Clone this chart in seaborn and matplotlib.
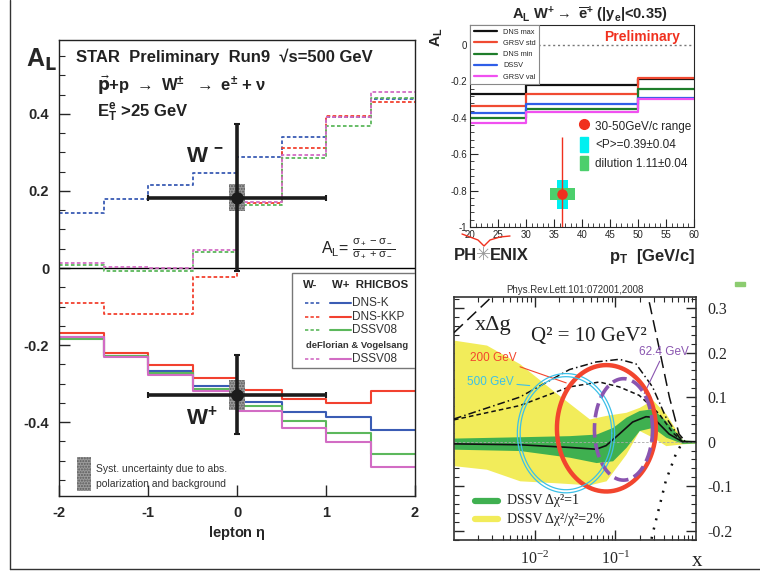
import numpy as np
import matplotlib
matplotlib.use("Agg")
import matplotlib.pyplot as plt
import seaborn as sns
from matplotlib.patches import Rectangle, Patch
from matplotlib.lines import Line2D
from matplotlib.ticker import MultipleLocator, LogLocator, NullFormatter

sns.set_style("ticks")
plt.rcParams['font.family'] = ['Liberation Sans', 'DejaVu Sans']
plt.rcParams['axes.unicode_minus'] = False
plt.rcParams['mathtext.default'] = 'regular'

# ---------------- STAR: A_L vs lepton eta ----------------
eta_edges = [-2.0, -1.5, -1.0, -0.5, 0.0, 0.5, 1.0, 1.5, 2.0]
# W- (dashed)
wm_dnsk = [0.144, 0.178, 0.215, 0.247, 0.288, 0.340, 0.392, 0.440]
wm_dnskkp = [-0.091, -0.119, -0.119, -0.023, 0.168, 0.311, 0.394, 0.431]
wm_dssv = [0.009, -0.008, -0.008, 0.042, 0.163, 0.285, 0.370, 0.442]
wm_dv = [0.013, 0.002, 0.000, 0.048, 0.172, 0.294, 0.392, 0.457]
# W+ (solid)
wp_dnsk = [-0.180, -0.228, -0.267, -0.307, -0.349, -0.374, -0.387, -0.420]
wp_dnskkp = [-0.168, -0.221, -0.253, -0.285, -0.317, -0.339, -0.350, -0.320]
wp_dssv = [-0.184, -0.228, -0.272, -0.313, -0.359, -0.398, -0.429, -0.483]
wp_dv = [-0.180, -0.230, -0.277, -0.320, -0.371, -0.416, -0.452, -0.516]
star_eta = [0.0, 0.0]
star_al = [0.183, -0.329]
star_stat = [0.19, 0.103]
star_xerr = [1.0, 1.0]
star_syst = [0.035, 0.039]
star_yticks = [-0.4, -0.2, 0.0, 0.2, 0.4]
star_xticks = [-2, -1, 0, 1, 2]
star_names = ['DNS-K', 'DNS-KKP', 'DSSV08', 'DSSV08']
star_colors = ['#3a5cb4', '#f2412f', '#5cb85c', '#d26cc4']

# ---------------- PHENIX: A_L vs pT ----------------
pt_edges = [20, 30, 50, 60]
phx_names = ['DNS max', 'GRSV std', 'DNS min', 'DSSV', 'GRSV val']
phx_colors = ['#111111', '#f04a32', '#1e7d2a', '#2f5ee8', '#f050f0']
phx_curves = [
    [-0.267, -0.222, -0.186],
    [-0.337, -0.267, -0.180],
    [-0.402, -0.351, -0.243],
    [-0.375, -0.326, -0.292],
    [-0.429, -0.366, -0.297],
]
phx_pt = [36.5]
phx_al = [-0.82]
phx_err = [0.315]
phx_pol = [0.079]
phx_dil = [0.033]
phx_xticks = [20, 25, 30, 35, 40, 45, 50, 55, 60]
phx_yticks = [-1, -0.8, -0.6, -0.4, -0.2, 0]

# ---------------- DSSV x*Delta g ----------------
lx_central = [-3.0, -2.185, -1.568, -1.238, -1.115, -0.951, -0.786, -0.621, -0.539, -0.457, -0.333, -0.169, -0.004]
dg_central = [-0.005, -0.007, -0.013, -0.017, -0.009, 0.017, 0.044, 0.056, 0.055, 0.040, 0.017, 0.0, 0.0]
lx_green = [-3.0, -2.185, -1.568, -1.238, -1.033, -0.868, -0.704, -0.539, -0.374, -0.169, -0.004]
green_hi = [0.008, 0.011, 0.0135, 0.017, 0.032, 0.055, 0.070, 0.074, 0.047, 0.004, 0.002]
green_lo = [-0.017, -0.020, -0.035, -0.047, -0.043, -0.013, 0.025, 0.032, 0.010, -0.004, -0.003]
lx_yellow = [-3.0, -2.597, -2.185, -1.774, -1.321, -1.115, -0.868, -0.704, -0.539, -0.374, -0.169, -0.004]
yellow_hi = [0.228, 0.217, 0.175, 0.115, 0.051, 0.059, 0.066, 0.077, 0.094, 0.0625, 0.004, 0.001]
yellow_lo = [-0.054, -0.062, -0.088, -0.092, -0.097, -0.088, -0.028, 0.025, 0.010, -0.009, -0.005, -0.003]
lx_dashdot = [-3.0, -2.185, -1.568, -1.238, -0.951, -0.745, -0.539, -0.374, -0.210, -0.128]
dg_dashdot = [0.051, 0.100, 0.162, 0.179, 0.185, 0.175, 0.123, 0.055, 0.010, 0.0]
lx_dashed = [-3.0, -2.185, -1.568, -1.198, -0.951, -0.704, -0.457, -0.292, -0.169]
dg_dashed = [0.049, 0.081, 0.123, 0.134, 0.123, 0.104, 0.0625, 0.021, 0.0]
lx_longdash = [-3.0, -2.9, -2.58, -2.3, -2.0, -1.5, -1.0, -0.7, -0.58, -0.46, -0.33, -0.21, -0.13]
dg_longdash = [0.245, 0.262, 0.317, 0.37, 0.43, 0.52, 0.52, 0.42, 0.314, 0.213, 0.10, 0.017, 0.0]
lx_dotted = [-0.6, -0.539, -0.374, -0.25, -0.169]
dg_dotted = [-0.26, -0.208, -0.088, -0.028, -0.002]
# sqrt(s) ellipses: centre log10(x), centre xDg, half-width (decades), half-height
ell_names = ['500 GeV', '200 GeV', '62.4 GeV']
ell_colors = ['#3cc0e8', '#f2452e', '#8a55b0']
ell_cx = [-1.612, -1.111, -0.899]
ell_cy = [0.019, 0.030, 0.0275]
ell_a = [0.603, 0.613, 0.36]
ell_b = [0.134, 0.142, 0.114]
dg_yticks = [-0.2, -0.1, 0.0, 0.1, 0.2, 0.3]

W, H = 760, 574


def fx(px):
    return px / W


def fy(py):
    return 1 - py / H


def step(ax, edges, vals, **kw):
    sns.lineplot(x=list(edges), y=list(vals) + [vals[-1]], drawstyle='steps-post',
                 ax=ax, legend=False, estimator=None, **kw)


fig = plt.figure(figsize=(7.6, 5.74), dpi=100)

# ======================= STAR panel =======================
ax1 = fig.add_axes([fx(59), fy(496), fx(356), 456 / H])
for vals, col in zip([wm_dnsk, wm_dnskkp, wm_dssv, wm_dv], star_colors):
    step(ax1, eta_edges, vals, color=col, lw=1.3, linestyle=(0, (2, 1.3)))
for vals, col in zip([wp_dnsk, wp_dnskkp, wp_dssv, wp_dv], star_colors):
    step(ax1, eta_edges, vals, color=col, lw=1.5)
ax1.axhline(0, color='black', lw=1, zorder=1)
syst = np.array(star_syst)
ax1.bar(star_eta, 2 * syst, bottom=np.array(star_al) - syst, width=0.18,
        color='#9c9c9c', hatch='......', edgecolor='#5a5a5a', lw=0, zorder=3)
ax1.errorbar(star_eta, star_al, xerr=star_xerr, yerr=star_stat, fmt='o',
             color='#1c1c1c', ms=8, elinewidth=2.6, capsize=2, capthick=1.5, zorder=4)
ax1.set_xlim(-2, 2)
ax1.set_ylim(-0.592, 0.592)
ax1.set_xticks(star_xticks, labels=[f'{v:g}' for v in star_xticks])
ax1.set_yticks(star_yticks, labels=[f'{v:g}' for v in star_yticks])
ax1.yaxis.set_minor_locator(MultipleLocator(0.05))
ax1.tick_params(direction='in', which='major', length=8, width=1, labelsize=10.5, pad=7)
ax1.tick_params(direction='in', which='minor', length=4, width=0.8)
ax1.tick_params(axis='x', which='minor', bottom=False)
for lab in ax1.get_xticklabels() + ax1.get_yticklabels():
    lab.set_fontweight('bold')
ax1.set_xlabel(r'lepton $\eta$', fontsize=10.5, fontweight='bold', labelpad=3)
for sp in ax1.spines.values():
    sp.set_color('#222222')
    sp.set_linewidth(1)

fig.text(fx(26), fy(60), r'A$_{\mathbf{L}}$', fontsize=18, fontweight='bold', va='center')
ax1.text(0.048, 0.963, 'STAR  Preliminary  Run9  √s=500 GeV', transform=ax1.transAxes,
         fontsize=12, fontweight='bold', va='center', color='#222222')
ax1.text(0.106, 0.901, r'$\vec{\mathbf{p}}$+p $\rightarrow$ W$^{\pm}$  $\rightarrow$ e$^{\pm}$ + $\nu$',
         transform=ax1.transAxes, fontsize=12, fontweight='bold', va='center', color='#222222')
ax1.text(0.106, 0.84, r'E$_T^e$ >25 GeV', transform=ax1.transAxes,
         fontsize=12, fontweight='bold', va='center', color='#222222')
ax1.text(0.735, 0.544, r'A$_L$= $\frac{\sigma_+ - \sigma_-}{\sigma_+ + \sigma_-}$',
         transform=ax1.transAxes, fontsize=11.5, va='center', color='#222222')
ax1.text(-0.57, 0.29, r'W $^{-}$', fontsize=16, fontweight='bold', va='center', color='#222222')
ax1.text(-0.57, -0.39, r'W$^{+}$', fontsize=16, fontweight='bold', va='center', color='#222222')

# hand-made legend box
ax1.add_patch(Rectangle((0.654, 0.28), 0.346, 0.21, transform=ax1.transAxes,
                        fc='white', ec='#777777', lw=1, zorder=5))
ax1.text(0.685, 0.463, 'W-', transform=ax1.transAxes, fontsize=8.2, fontweight='bold',
         va='center', zorder=6)
ax1.text(0.768, 0.463, 'W+  RHICBOS', transform=ax1.transAxes, fontsize=8.2, fontweight='bold',
         va='center', zorder=6)
row_y = [0.424, 0.392, 0.363, 0.301]
for yy, col, name in zip(row_y, star_colors, star_names):
    ax1.add_line(Line2D([0.691, 0.736], [yy, yy], transform=ax1.transAxes, color=col,
                        lw=1.2, linestyle=(0, (2, 1.3)), zorder=6))
    ax1.add_line(Line2D([0.761, 0.820], [yy, yy], transform=ax1.transAxes, color=col,
                        lw=1.5, zorder=6))
    ax1.text(0.823, yy, name, transform=ax1.transAxes, fontsize=8.5, va='center',
             color='#333333', zorder=6)
ax1.text(0.838, 0.331, 'deFlorian & Vogelsang', transform=ax1.transAxes, fontsize=6.8,
         fontweight='bold', ha='center', va='center', color='#333333', zorder=6)

ax1.add_patch(Rectangle((0.051, 0.012), 0.039, 0.074, transform=ax1.transAxes,
                        fc='#9c9c9c', hatch='......', ec='#5a5a5a', lw=0))
ax1.text(0.104, 0.059, 'Syst. uncertainty due to abs.', transform=ax1.transAxes,
         fontsize=7.5, va='center', color='#333333')
ax1.text(0.104, 0.026, 'polarization and background', transform=ax1.transAxes,
         fontsize=7.5, va='center', color='#333333')

# ======================= PHENIX panel =======================
ax2 = fig.add_axes([fx(470), fy(227), fx(224), 202 / H])
for vals, col, name in zip(phx_curves, phx_colors, phx_names):
    step(ax2, pt_edges, vals, color=col, lw=1.6, label=name)
ax2.axhline(0, color='#777777', lw=1, linestyle=(0, (1.5, 2)), zorder=1)
ax2.bar(phx_pt, 2 * np.array(phx_pol), bottom=np.array(phx_al) - phx_pol, width=2.1,
        color='#00f0f0', lw=0, zorder=3)
ax2.bar(phx_pt, 2 * np.array(phx_dil), bottom=np.array(phx_al) - phx_dil, width=4.5,
        color='#4ccf6c', lw=0, zorder=3)
ax2.errorbar(phx_pt, phx_al, yerr=phx_err, fmt='o', color='#f0301e', ms=6.5,
             elinewidth=1, zorder=4)
ax2.set_xlim(20, 60)
ax2.set_ylim(-1, 0.11)
ax2.set_xticks(phx_xticks, labels=[f'{v:g}' for v in phx_xticks])
ax2.set_yticks(phx_yticks, labels=[f'{v:g}' for v in phx_yticks])
ax2.xaxis.set_minor_locator(MultipleLocator(1))
ax2.yaxis.set_minor_locator(MultipleLocator(0.04))
ax2.tick_params(direction='in', which='major', length=6, width=0.8, labelsize=7, pad=2)
ax2.tick_params(direction='in', which='minor', length=3, width=0.6)
for sp in ax2.spines.values():
    sp.set_linewidth(0.8)

leg1 = ax2.legend(handles=[Line2D([], [], color=c, lw=1.6) for c in phx_colors], labels=phx_names,
                  loc='upper left', bbox_to_anchor=(0, 1), borderaxespad=0, fontsize=5.3,
                  frameon=True, fancybox=False, edgecolor='#888888', framealpha=1,
                  handlelength=3.2, labelspacing=0.55, borderpad=0.5, shadow=False)
leg1.get_frame().set_linewidth(0.8)
ax2.add_artist(leg1)
ax2.legend(handles=[Line2D([], [], marker='o', color='#f0301e', ls='none', ms=7),
                    Patch(color='#00f0f0'), Patch(color='#4ccf6c')],
           labels=['30-50GeV/c range', '<P>=0.39±0.04', 'dilution 1.11±0.04'],
           loc='upper left', bbox_to_anchor=(0.47, 0.56), borderaxespad=0, frameon=False,
           fontsize=8.5, handlelength=0.7, handleheight=1.5, handletextpad=0.6,
           labelspacing=0.35)
ax2.text(0.767, 0.942, 'Preliminary', transform=ax2.transAxes, color='#f0301e',
         fontsize=10, fontweight='bold', ha='center', va='center')
fig.text(fx(590), fy(15), r'A$_L$ W$^{+}$$\rightarrow$ $\overline{e}^{+}$ (|y$_e$|<0.35)',
         fontsize=10.5, fontweight='bold', ha='center', va='center')
fig.text(fx(437), fy(37), r'A$_L$', fontsize=11, fontweight='bold', rotation=90,
         ha='center', va='center')
fig.text(fx(652), fy(257), r'p$_T$  [GeV/c]', fontsize=12, fontweight='bold',
         ha='center', va='center')
fig.text(fx(477), fy(255), 'PH', fontsize=12, fontweight='bold', ha='right', va='center')
fig.text(fx(484), fy(255), '✳', fontsize=13, color='#9a9a9a', ha='center', va='center',
         family=['DejaVu Sans'])
fig.text(fx(490), fy(255), 'ENIX', fontsize=12, fontweight='bold', ha='left', va='center')
swoosh_x = [462, 470, 478, 484, 490, 500, 510]
swoosh_y = [234, 237, 240, 246, 240, 237, 236]
fig.add_artist(Line2D([fx(v) for v in swoosh_x], [fy(v) for v in swoosh_y],
                      color='#f0301e', lw=1))

# ======================= DSSV x*Delta g panel =======================
serif = ['Liberation Serif', 'DejaVu Serif']
ax3 = fig.add_axes([fx(454), fy(540), fx(242), 243 / H])
ax3.set_xscale('log')
ax3.fill_between(10 ** np.array(lx_yellow), yellow_lo, yellow_hi, color='#f2ec5a', lw=0, zorder=1)
ax3.fill_between(10 ** np.array(lx_green), green_lo, green_hi, color='#3fb050', lw=0, zorder=2)
ax3.axhline(0, color='#aaaaaa', lw=0.6, linestyle=(0, (3, 2)), zorder=2)
sns.lineplot(x=10 ** np.array(lx_central), y=dg_central, ax=ax3, color='#111111', lw=1.2,
             estimator=None, sort=False, zorder=3)
sns.lineplot(x=10 ** np.array(lx_dashdot), y=dg_dashdot, ax=ax3, color='#111111', lw=1.1,
             linestyle=(0, (5, 2, 1, 2)), estimator=None, sort=False, zorder=3)
sns.lineplot(x=10 ** np.array(lx_dashed), y=dg_dashed, ax=ax3, color='#111111', lw=1.1,
             linestyle=(0, (3, 2)), estimator=None, sort=False, zorder=3)
sns.lineplot(x=10 ** np.array(lx_longdash), y=dg_longdash, ax=ax3, color='#111111', lw=1.1,
             linestyle=(0, (8, 4)), estimator=None, sort=False, zorder=3)
sns.lineplot(x=10 ** np.array(lx_dotted), y=dg_dotted, ax=ax3, color='#111111', lw=1.8,
             linestyle=(0, (0.8, 3)), estimator=None, sort=False, zorder=3)

t = np.linspace(0, 2 * np.pi, 200)
ell_styles = [dict(lw=0.9), dict(lw=3.2), dict(lw=2.6, linestyle=(0, (4, 1.6)))]
for cx, cy, a, b, col, st in zip(ell_cx, ell_cy, ell_a, ell_b, ell_colors, ell_styles):
    sns.lineplot(x=10 ** (cx + a * np.cos(t)), y=cy + b * np.sin(t), ax=ax3, color=col,
                 estimator=None, sort=False, zorder=4, **st)
# double ring for 500 GeV
sns.lineplot(x=10 ** (ell_cx[0] + (ell_a[0] - 0.035) * np.cos(t)),
             y=ell_cy[0] + (ell_b[0] - 0.007) * np.sin(t), ax=ax3, color=ell_colors[0],
             lw=0.9, estimator=None, sort=False, zorder=4)

ax3.annotate('200 GeV', xy=(10 ** -1.609, 0.132), xytext=(10 ** -2.80, 0.189),
             color=ell_colors[1], fontsize=8.5, va='center',
             arrowprops=dict(arrowstyle='-', color=ell_colors[1], lw=0.8, shrinkA=0, shrinkB=0))
ax3.annotate('500 GeV', xy=(10 ** -2.062, 0.126), xytext=(10 ** -2.84, 0.134),
             color=ell_colors[0], fontsize=8.5, va='center',
             arrowprops=dict(arrowstyle='-', color=ell_colors[0], lw=0.8, shrinkA=0, shrinkB=0))
ax3.annotate('62.4 GeV', xy=(10 ** -0.642, 0.108), xytext=(10 ** -0.704, 0.2016),
             color=ell_colors[2], fontsize=8.5, va='center',
             arrowprops=dict(arrowstyle='-', color=ell_colors[2], lw=0.8, shrinkA=0, shrinkB=0))
ax3.text(10 ** -2.74, 0.262, 'xΔg', fontsize=16, family=serif, va='center', color='#222222')
ax3.text(0.32, 0.836, 'Q² = 10 GeV²', transform=ax3.transAxes, fontsize=15, family=serif,
         va='center', color='#222222')

ax3.set_xlim(1e-3, 1)
ax3.set_ylim(-0.221, 0.325)
ax3.set_xticks([1e-2, 1e-1], labels=[r'$\mathdefault{10^{-2}}$', r'$\mathdefault{10^{-1}}$'])
ax3.xaxis.set_minor_locator(LogLocator(base=10, subs=np.arange(2, 10)))
ax3.xaxis.set_minor_formatter(NullFormatter())
ax3.set_yticks(dg_yticks, labels=[f'{v:g}' for v in dg_yticks])
ax3.yaxis.set_minor_locator(MultipleLocator(0.02))
ax3.tick_params(direction='in', which='major', length=7, width=1, top=True, right=True,
                left=True, labelleft=False, labelright=True, labelsize=11.5, pad=8)
ax3.tick_params(direction='in', which='minor', length=3.5, width=0.8, top=True, right=True,
                left=True)
for lab in ax3.get_xticklabels() + ax3.get_yticklabels():
    lab.set_family(serif)
for sp in ax3.spines.values():
    sp.set_color('#333333')
    sp.set_linewidth(1.2)
ax3.set_title('Phys.Rev.Lett.101:072001,2008', fontsize=7, pad=3, color='#333333')
fig.text(fx(697), fy(562), 'x', fontsize=15, family=serif, ha='center', va='center',
         color='#222222')

# DSSV band legend
for yy, col, lab in zip([0.162, 0.085], ['#3fb050', '#f2ec5a'],
                        ['DSSV Δχ²=1', 'DSSV Δχ²/χ²=2%']):
    ax3.add_line(Line2D([0.087, 0.182], [yy, yy], transform=ax3.transAxes, color=col, lw=4.5))
    ax3.text(0.219, yy, lab, transform=ax3.transAxes, fontsize=10, family=serif,
             va='center', color='#222222')

# outer frame pieces and stray legend swatch
fig.add_artist(Line2D([fx(9.5), fx(9.5)], [fy(569), 1], color='#333333', lw=1))
fig.add_artist(Line2D([fx(9.5), 1], [fy(569), fy(569)], color='#333333', lw=1))
fig.add_artist(Rectangle((fx(735), fy(286)), fx(10), 4 / H, color='#8ccc70'))

fig.savefig('out.png', dpi=100)
